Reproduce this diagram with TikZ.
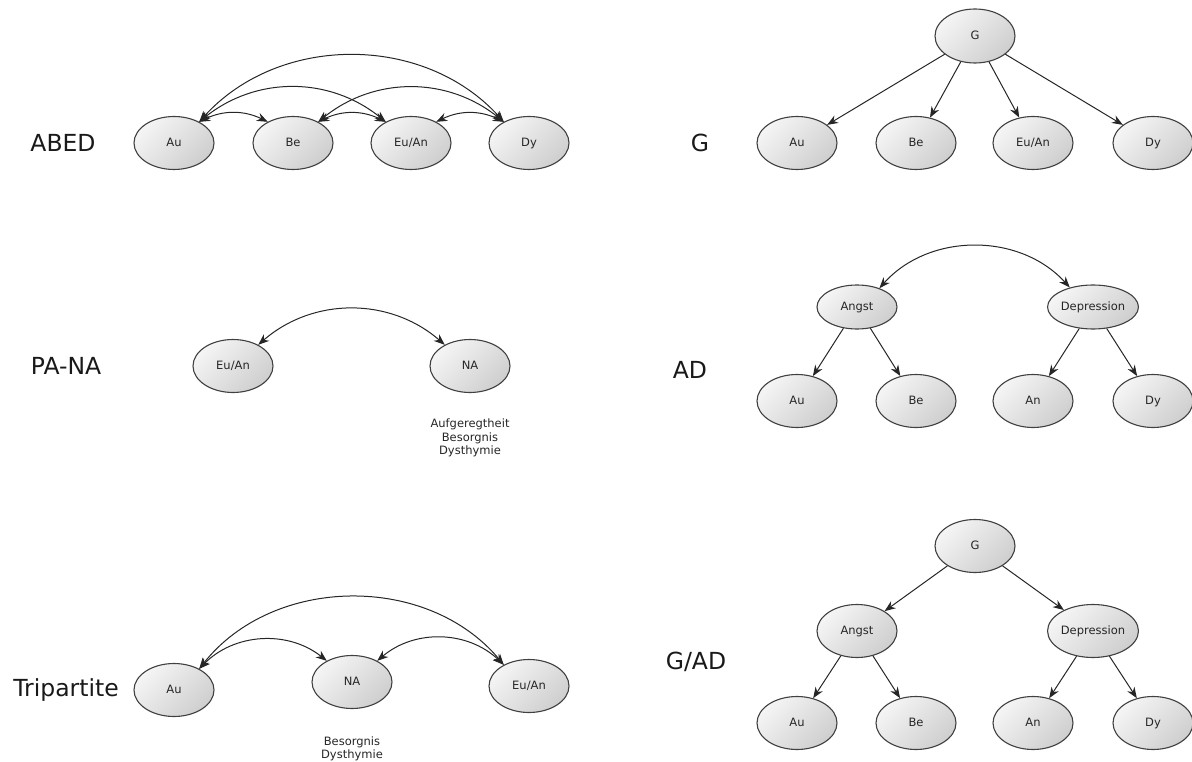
\documentclass[tikz,border=0pt]{standalone}
\usepackage{fontspec}
\setmainfont{DejaVu Sans}
\usetikzlibrary{arrows.meta,shapes.geometric}

\tikzset{
  var/.style={ellipse, draw=black!75, line width=1.1pt,
    top color=gray!8, bottom color=gray!38, shading angle=45,
    minimum width=80pt, minimum height=53pt, inner sep=0pt,
    text height=8.5pt, text depth=2pt,
    font=\fontsize{11.5}{13}\selectfont, text=black!85},
  flat/.style={var, minimum height=44pt},
  title/.style={font=\fontsize{23.5}{26}\selectfont, text=black!90, inner sep=0pt},
  note/.style={font=\fontsize{11.5}{13.5}\selectfont, align=center, inner sep=0pt, text=black!85},
  link/.style={draw=black!85, line width=1pt, -{Stealth[length=11pt,width=8.5pt]}},
  corr/.style={draw=black!85, line width=1pt,
    {Stealth[length=11pt,width=8.5pt]}-{Stealth[length=11pt,width=8.5pt]}},
}

\begin{document}
\begin{tikzpicture}[x=1pt,y=-1pt]
\useasboundingbox (0,0) rectangle (1192,762);

% ---- ABED: all four facets correlated ----
\node[title] (tA) at (63,143) {ABED};
\node[var] (a1) at (174,143) {Au};
\node[var] (a2) at (293,143) {Be};
\node[var] (a3) at (411,143) {Eu/An};
\node[var] (a4) at (529,143) {Dy};
\draw[corr] (a1.40) to[bend left=26] (a2.140);
\draw[corr] (a2.40) to[bend left=26] (a3.140);
\draw[corr] (a3.40) to[bend left=26] (a4.140);
\draw[corr] (a1.40) to[bend left=39] (a3.140);
\draw[corr] (a2.40) to[bend left=39] (a4.140);
\draw[corr] (a1.40) to[bend left=48] (a4.140);

% ---- PA-NA ----
\node[title] (tP) at (66,366) {PA-NA};
\node[var] (p1) at (233,366) {Eu/An};
\node[var] (p2) at (470,366) {NA};
\node[note] (pn) at (470,438) {Aufgeregtheit\\Besorgnis\\Dysthymie};
\draw[corr] (p1.40) to[bend left=41] (p2.140);

% ---- Tripartite ----
\node[title] (tT) at (66,690) {Tripartite};
\node[var] (t1) at (174,690) {Au};
\node[var] (t2) at (352,682) {NA};
\node[var] (t3) at (529,686) {Eu/An};
\node[note] (tn) at (352,749) {Besorgnis\\Dysthymie};
\draw[corr] (t1.40) to[bend left=51] (t3.140);
\draw[corr] (t1.40) to[bend left=42] (t2.140);
\draw[corr] (t2.40) to[bend left=42] (t3.140);

% ---- G: one general factor ----
\node[title] (tG) at (700,143) {G};
\node[var, minimum height=54pt] (g0) at (975,36) {G};
\node[var] (g1) at (797,143) {Au};
\node[var] (g2) at (916,143) {Be};
\node[var] (g3) at (1033,143) {Eu/An};
\node[var] (g4) at (1153,143) {Dy};
\foreach \c in {g1,g2,g3,g4} \draw[link] (g0) -- (\c);

% ---- AD: anxiety and depression factors ----
\node[title] (tAD) at (690,370) {AD};
\node[flat] (d1) at (857,307) {Angst};
\node[flat] (d2) at (1093,307) {Depression};
\node[var] (d3) at (797,401) {Au};
\node[var] (d4) at (916,401) {Be};
\node[var] (d5) at (1033,401) {An};
\node[var] (d6) at (1153,401) {Dy};
\draw[corr] (d1.40) to[bend left=48] (d2.140);
\draw[link] (d1) -- (d3);
\draw[link] (d1) -- (d4);
\draw[link] (d2) -- (d5);
\draw[link] (d2) -- (d6);

% ---- G/AD: hierarchical model ----
\node[title] (tGAD) at (696,662) {G/AD};
\node[var] (h0) at (975,546) {G};
\node[var] (h1) at (857,631) {Angst};
\node[var] (h2) at (1093,631) {Depression};
\node[var] (h3) at (797,723) {Au};
\node[var] (h4) at (916,723) {Be};
\node[var] (h5) at (1033,723) {An};
\node[var] (h6) at (1153,723) {Dy};
\draw[link] (h0) -- (h1);
\draw[link] (h0) -- (h2);
\draw[link] (h1) -- (h3);
\draw[link] (h1) -- (h4);
\draw[link] (h2) -- (h5);
\draw[link] (h2) -- (h6);
\end{tikzpicture}
\end{document}
